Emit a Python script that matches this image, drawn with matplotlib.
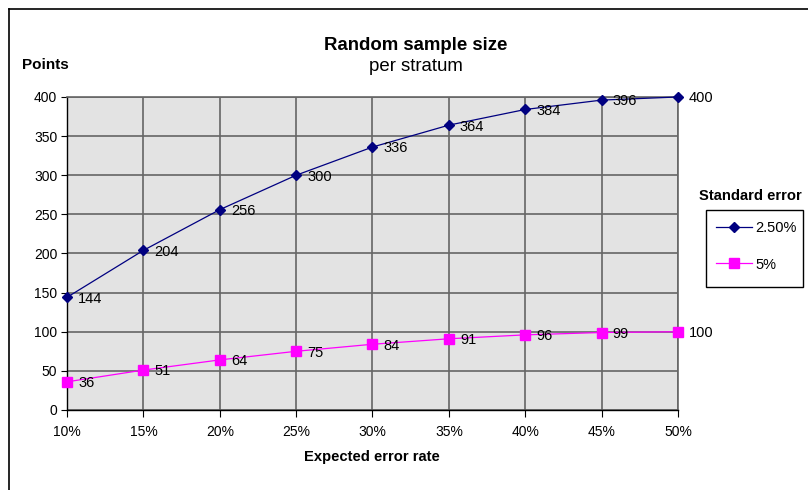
"""
    Random sample size per stratum (Excel-style line chart)
"""

import matplotlib
matplotlib.use("Agg")
import matplotlib.pyplot as plt
from matplotlib.lines import Line2D
from matplotlib.patches import Rectangle

plt.rcParams['font.family'] = ['Liberation Sans', 'DejaVu Sans']

error_rates = [0.10, 0.15, 0.20, 0.25, 0.30, 0.35, 0.40, 0.45, 0.50]
x_labels = ["10%", "15%", "20%", "25%", "30%", "35%", "40%", "45%", "50%"]
se_25 = [144, 204, 256, 300, 336, 364, 384, 396, 400]
se_5 = [36, 51, 64, 75, 84, 91, 96, 99, 100]
series_names = ["2.50%", "5%"]

fig = plt.figure(figsize=(8.08, 4.90), dpi=100)
ax = fig.add_axes([0.083, 0.1633, 0.756, 0.6388])
ax.set_facecolor("#e3e3e3")

# outer chart frame (only top and left visible in the crop)
fig.add_artist(Line2D([0.011, 1.0], [0.9816, 0.9816], color="black", lw=1.2,
                      transform=fig.transFigure))
fig.add_artist(Line2D([0.011, 0.011], [0.0, 0.9816], color="black", lw=1.2,
                      transform=fig.transFigure))

ax.plot(error_rates, se_25, color="#000080", lw=0.9, marker="D", ms=5,
        mfc="#000080", mec="#000080", clip_on=False, zorder=3)
ax.plot(error_rates, se_5, color="#ff00ff", lw=0.9, marker="s", ms=7,
        mfc="#ff00ff", mec="#ff00ff", clip_on=False, zorder=3)

for xs, ys in ((error_rates, se_25), (error_rates, se_5)):
    for xv, yv in zip(xs, ys):
        ax.annotate(str(yv), (xv, yv), xytext=(8, -1), textcoords="offset points",
                    ha="left", va="center", fontsize=10.5, color="black",
                    annotation_clip=False, zorder=4)

ax.set_xlim(0.10, 0.50)
ax.set_ylim(0, 400)
ax.set_xticks(error_rates)
ax.set_xticklabels(x_labels, fontsize=10)
ax.set_yticks(range(0, 401, 50))
ax.tick_params(axis="y", labelsize=10, length=4, direction="out", pad=3)
ax.tick_params(axis="x", labelsize=10, length=5, direction="out", pad=6)

ax.grid(True, color="#666666", lw=1.2)
ax.set_axisbelow(True)
for side in ("top", "right"):
    ax.spines[side].set_color("#666666")
    ax.spines[side].set_linewidth(1.2)
for side in ("left", "bottom"):
    ax.spines[side].set_color("black")
    ax.spines[side].set_linewidth(1.0)

fig.text(0.515, 0.908, "Random sample size", ha="center", va="center",
         fontsize=13.4, fontweight="bold")
fig.text(0.515, 0.865, "per stratum", ha="center", va="center", fontsize=13.4)
fig.text(0.027, 0.867, "Points", ha="left", va="center", fontsize=11,
         fontweight="bold")
fig.text(0.46, 0.067, "Expected error rate", ha="center", va="center",
         fontsize=10.6, fontweight="bold")

# legend: title sits above the box, as in Excel
handles = [
    Line2D([], [], color="#000080", lw=0.9, marker="D", ms=5),
    Line2D([], [], color="#ff00ff", lw=0.9, marker="s", ms=7),
]
fig.text(0.929, 0.6, "Standard error", ha="center", va="center",
         fontsize=10.6, fontweight="bold")
fig.add_artist(Rectangle((0.8738, 0.4143), 0.12, 0.1571, fill=False,
                         edgecolor="black", lw=1.0, transform=fig.transFigure))
leg = fig.legend(handles, series_names, loc="upper left",
                 bbox_to_anchor=(0.886, 0.549), fontsize=10.5, frameon=False,
                 handlelength=2.5, labelspacing=1.55, borderpad=0,
                 handletextpad=0.2, borderaxespad=0)

fig.savefig("out.png", dpi=100)
